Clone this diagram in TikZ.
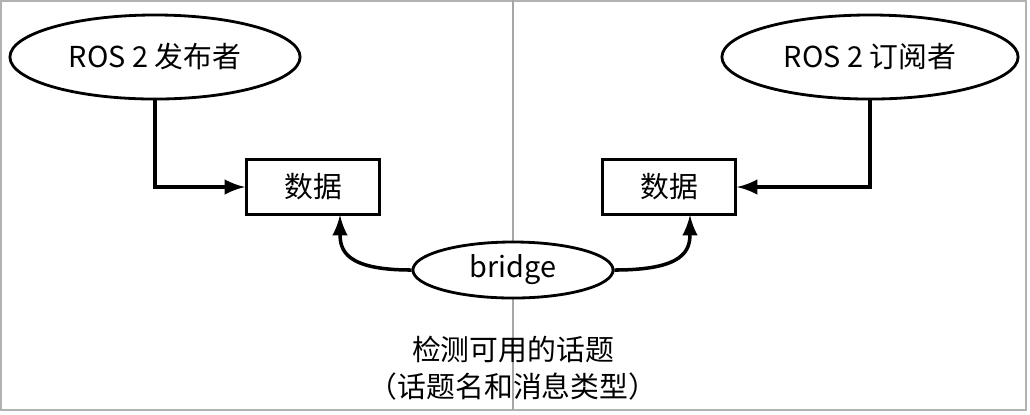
\documentclass[tikz,border=0pt]{standalone}
\usepackage{fontspec}
\setmainfont{Noto Sans CJK SC}
\usetikzlibrary{shapes.geometric}
\begin{document}
\begin{tikzpicture}[
        x=0.01cm, y=-0.01cm,
        every node/.style={font=\fontsize{8.2}{10.5}\selectfont},
        oval/.style={draw, ellipse, thick, inner sep=0pt, minimum width=2.9cm, minimum height=0.84cm},
        databox/.style={draw, thick, minimum width=1.33cm, minimum height=0.55cm},
        link/.style={line width=1pt, -latex}
    ]
        \useasboundingbox (0,0) rectangle (1030,414);
        \draw[gray!60] (1,1) rectangle (1026,410);
        \draw[gray!70] (513,0) -- (513,410);

        \node[oval] (pub) at (155,57) {ROS 2 发布者};
        \node[oval, minimum width=2.96cm] (sub) at (870,57) {ROS 2 订阅者};
        \node[databox] (dataL) at (313,187) {数据};
        \node[databox] (dataR) at (669,187) {数据};
        \node[oval, minimum width=2cm, minimum height=0.56cm, fill=white] (bridge) at (513,270) {bridge};

        \draw[link] (pub.south) |- (dataL.west);
        \draw[link] (sub.south) |- (dataR.east);
        \draw[link] (bridge.west) .. controls (345,270) and (340,250) .. (340,215);
        \draw[link] (bridge.east) .. controls (685,270) and (690,250) .. (690,215);

        \node[align=center] (note) at (513,368) {检测可用的话题\\（话题名和消息类型）};
    \end{tikzpicture}
\end{document}
